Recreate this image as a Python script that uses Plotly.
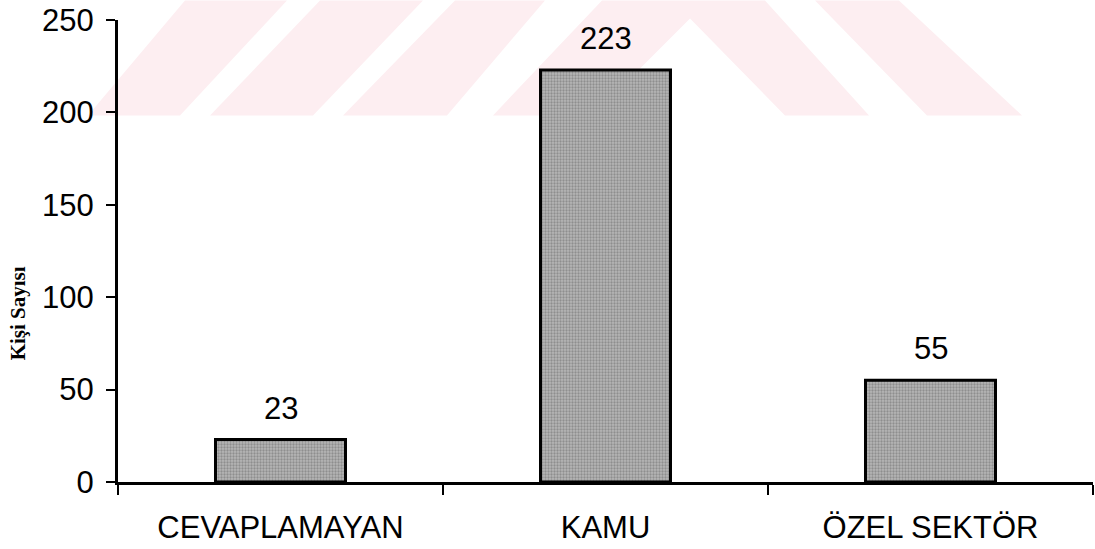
import plotly.graph_objects as go

categories = ["CEVAPLAMAYAN", "KAMU", "ÖZEL SEKTÖR"]
values = [23, 223, 55]
y_ticks = [0, 50, 100, 150, 200, 250]
y_title = "Kişi Sayısı"

FONT = "Arial, Liberation Sans, sans-serif"

fig = go.Figure()
fig.add_trace(go.Bar(
    x=categories, y=values, width=0.4,
    marker=dict(
        color="#b0b0b0",
        line=dict(color="black", width=3),
        pattern=dict(shape=".", fgcolor="#666666", bgcolor="#b6b6b6", size=3, solidity=0.45),
    ),
    hoverinfo="skip",
))

for c, v in zip(categories, values):
    fig.add_annotation(x=c, y=v, text=str(v), showarrow=False, yanchor="bottom",
                       yshift=12, font=dict(family=FONT, size=31, color="black"))

fig.add_annotation(xref="paper", yref="paper", x=-0.1026, y=0.365, text="<b>" + y_title + "</b>",
                   textangle=-90, showarrow=False, xanchor="center", yanchor="middle",
                   font=dict(family="Liberation Serif, Times New Roman, serif", size=21, color="black"))

# faint watermark band (decoration), defined in page pixels and converted to paper coords
L, R, B, T = 118, 1093, 482, 19.5
def px(x):
    return (x - L) / (R - L)
def py(y):
    return (B - y) / (B - T)

wm_polys = [
    [(88, 115), (185, 0), (287, 0), (180, 115)],
    [(210, 115), (320, 0), (423, 0), (313, 115)],
    [(343, 115), (455, 0), (545, 0), (447, 115)],
    [(493, 115), (602, 0), (765, 0), (869, 115), (785, 115), (690, 18), (593, 115)],
    [(815, 0), (899, 0), (1022, 115), (927, 115)],
]
for poly in wm_polys:
    path = "M " + " L ".join(f"{px(a):.4f},{py(b):.4f}" for a, b in poly) + " Z"
    fig.add_shape(type="path", path=path, xref="paper", yref="paper",
                  fillcolor="rgb(253,238,241)", line=dict(width=0), layer="below")

fig.update_layout(
    width=1095, height=549,
    margin=dict(l=118, r=2, t=19.5, b=67),
    paper_bgcolor="white", plot_bgcolor="rgba(0,0,0,0)",
    showlegend=False,
    font=dict(family=FONT, size=31, color="black"),
)
fig.update_xaxes(
    range=[-0.5, 2.5], showline=True, linecolor="black", linewidth=3,
    ticks="outside", tickson="boundaries", ticklen=10, tickwidth=2, tickcolor="black",
    showgrid=False, zeroline=False, ticklabelstandoff=16,
    tickfont=dict(family=FONT, size=31, color="black"),
)
fig.update_yaxes(
    range=[0, 250], tickvals=y_ticks, showline=True, linecolor="black", linewidth=3,
    ticks="outside", ticklen=9, tickwidth=2, tickcolor="black",
    showgrid=False, zeroline=False, ticklabelstandoff=6,
    tickfont=dict(family=FONT, size=31, color="black"),
)

fig.write_html("out.html")
